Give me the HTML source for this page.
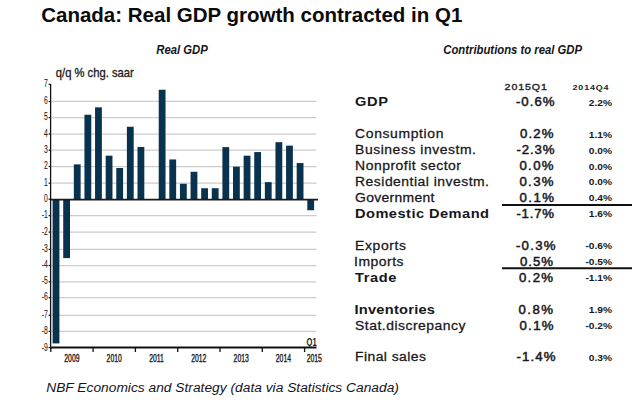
<!DOCTYPE html><html><head><meta charset="utf-8"><title>Canada: Real GDP growth contracted in Q1</title>
<style>html,body{margin:0;padding:0;background:#fff;}body{width:640px;height:405px;overflow:hidden;}svg{display:block;}text{font-family:"Liberation Sans",Arial,sans-serif;}</style></head><body>
<svg width="640" height="405" viewBox="0 0 640 405">
<rect width="640" height="405" fill="#fff"/>
<text transform="translate(41.2,22.2) scale(1.0,1)" font-size="20.5" font-weight="bold" fill="#0b0b0b">Canada: Real GDP growth contracted in Q1</text>
<text transform="translate(156.3,54.3) scale(0.87,1)" font-size="13" font-weight="bold" font-style="italic" fill="#141420">Real GDP</text>
<text transform="translate(443.3,54.1) scale(0.87,1)" font-size="13" font-weight="bold" font-style="italic" fill="#141420">Contributions to real GDP</text>
<text transform="translate(55.8,76.8) scale(0.935,1)" font-size="12" fill="#1a1a1a" stroke="#1a1a1a" stroke-width="0.3">q/q % chg. saar</text>
<line x1="51.5" y1="331.40" x2="316.5" y2="331.40" stroke="#cccccc" stroke-width="1.25"/>
<line x1="51.5" y1="315.30" x2="316.5" y2="315.30" stroke="#cccccc" stroke-width="1.25"/>
<line x1="51.5" y1="297.70" x2="316.5" y2="297.70" stroke="#cccccc" stroke-width="1.25"/>
<line x1="51.5" y1="281.80" x2="316.5" y2="281.80" stroke="#cccccc" stroke-width="1.25"/>
<line x1="51.5" y1="265.50" x2="316.5" y2="265.50" stroke="#cccccc" stroke-width="1.25"/>
<line x1="51.5" y1="249.40" x2="316.5" y2="249.40" stroke="#cccccc" stroke-width="1.25"/>
<line x1="51.5" y1="232.10" x2="316.5" y2="232.10" stroke="#cccccc" stroke-width="1.25"/>
<line x1="51.5" y1="215.70" x2="316.5" y2="215.70" stroke="#cccccc" stroke-width="1.25"/>
<line x1="51.5" y1="183.20" x2="316.5" y2="183.20" stroke="#cccccc" stroke-width="1.25"/>
<line x1="51.5" y1="166.50" x2="316.5" y2="166.50" stroke="#cccccc" stroke-width="1.25"/>
<line x1="51.5" y1="150.20" x2="316.5" y2="150.20" stroke="#cccccc" stroke-width="1.25"/>
<line x1="51.5" y1="134.00" x2="316.5" y2="134.00" stroke="#cccccc" stroke-width="1.25"/>
<line x1="51.5" y1="117.60" x2="316.5" y2="117.60" stroke="#cccccc" stroke-width="1.25"/>
<line x1="51.5" y1="101.45" x2="316.5" y2="101.45" stroke="#cccccc" stroke-width="1.25"/>
<rect x="52.61" y="199.40" width="6.8" height="144.01" fill="#09324f"/>
<rect x="63.22" y="199.40" width="6.8" height="58.69" fill="#09324f"/>
<rect x="73.83" y="164.38" width="6.8" height="35.02" fill="#09324f"/>
<rect x="84.45" y="114.73" width="6.8" height="84.67" fill="#09324f"/>
<rect x="95.06" y="107.34" width="6.8" height="92.06" fill="#09324f"/>
<rect x="105.67" y="155.67" width="6.8" height="43.73" fill="#09324f"/>
<rect x="116.28" y="168.00" width="6.8" height="31.40" fill="#09324f"/>
<rect x="126.89" y="126.74" width="6.8" height="72.66" fill="#09324f"/>
<rect x="137.51" y="146.96" width="6.8" height="52.44" fill="#09324f"/>
<rect x="158.73" y="89.75" width="6.8" height="109.65" fill="#09324f"/>
<rect x="169.34" y="159.45" width="6.8" height="39.95" fill="#09324f"/>
<rect x="179.95" y="183.78" width="6.8" height="15.62" fill="#09324f"/>
<rect x="190.57" y="171.78" width="6.8" height="27.62" fill="#09324f"/>
<rect x="201.18" y="188.22" width="6.8" height="11.18" fill="#09324f"/>
<rect x="211.79" y="188.22" width="6.8" height="11.18" fill="#09324f"/>
<rect x="222.40" y="147.12" width="6.8" height="52.28" fill="#09324f"/>
<rect x="233.01" y="166.68" width="6.8" height="32.72" fill="#09324f"/>
<rect x="243.63" y="155.67" width="6.8" height="43.73" fill="#09324f"/>
<rect x="254.24" y="152.05" width="6.8" height="47.35" fill="#09324f"/>
<rect x="264.85" y="182.14" width="6.8" height="17.26" fill="#09324f"/>
<rect x="275.46" y="142.19" width="6.8" height="57.21" fill="#09324f"/>
<rect x="286.07" y="145.64" width="6.8" height="53.76" fill="#09324f"/>
<rect x="296.69" y="163.07" width="6.8" height="36.33" fill="#09324f"/>
<rect x="307.30" y="199.40" width="6.8" height="10.85" fill="#09324f"/>
<line x1="50" y1="199.6" x2="318" y2="199.6" stroke="#1a1a1a" stroke-width="1.9"/>
<line x1="50.6" y1="84" x2="50.6" y2="349" stroke="#111" stroke-width="1.3"/>
<line x1="48.6" y1="347.6" x2="50.6" y2="347.6" stroke="#111" stroke-width="1.2"/>
<line x1="48.6" y1="331.4" x2="50.6" y2="331.4" stroke="#111" stroke-width="1.2"/>
<line x1="48.6" y1="315.3" x2="50.6" y2="315.3" stroke="#111" stroke-width="1.2"/>
<line x1="48.6" y1="297.7" x2="50.6" y2="297.7" stroke="#111" stroke-width="1.2"/>
<line x1="48.6" y1="281.8" x2="50.6" y2="281.8" stroke="#111" stroke-width="1.2"/>
<line x1="48.6" y1="265.5" x2="50.6" y2="265.5" stroke="#111" stroke-width="1.2"/>
<line x1="48.6" y1="249.4" x2="50.6" y2="249.4" stroke="#111" stroke-width="1.2"/>
<line x1="48.6" y1="232.1" x2="50.6" y2="232.1" stroke="#111" stroke-width="1.2"/>
<line x1="48.6" y1="215.7" x2="50.6" y2="215.7" stroke="#111" stroke-width="1.2"/>
<line x1="48.6" y1="199.2" x2="50.6" y2="199.2" stroke="#111" stroke-width="1.2"/>
<line x1="48.6" y1="183.2" x2="50.6" y2="183.2" stroke="#111" stroke-width="1.2"/>
<line x1="48.6" y1="166.5" x2="50.6" y2="166.5" stroke="#111" stroke-width="1.2"/>
<line x1="48.6" y1="150.2" x2="50.6" y2="150.2" stroke="#111" stroke-width="1.2"/>
<line x1="48.6" y1="134.0" x2="50.6" y2="134.0" stroke="#111" stroke-width="1.2"/>
<line x1="48.6" y1="117.6" x2="50.6" y2="117.6" stroke="#111" stroke-width="1.2"/>
<line x1="48.6" y1="101.5" x2="50.6" y2="101.5" stroke="#111" stroke-width="1.2"/>
<line x1="48.6" y1="84.3" x2="50.6" y2="84.3" stroke="#111" stroke-width="1.2"/>
<line x1="50" y1="347.5" x2="316.5" y2="347.5" stroke="#111" stroke-width="2"/>
<line x1="50.8" y1="347" x2="50.8" y2="352" stroke="#111" stroke-width="1.3"/>
<line x1="93.1" y1="347" x2="93.1" y2="352" stroke="#111" stroke-width="1.3"/>
<line x1="135.4" y1="347" x2="135.4" y2="352" stroke="#111" stroke-width="1.3"/>
<line x1="177.7" y1="347" x2="177.7" y2="352" stroke="#111" stroke-width="1.3"/>
<line x1="220.0" y1="347" x2="220.0" y2="352" stroke="#111" stroke-width="1.3"/>
<line x1="262.3" y1="347" x2="262.3" y2="352" stroke="#111" stroke-width="1.3"/>
<line x1="304.6" y1="347" x2="304.6" y2="352" stroke="#111" stroke-width="1.3"/>
<text transform="translate(47.8,350.9) scale(0.62,1)" font-size="11" text-anchor="end" fill="#222" stroke="#222" stroke-width="0.1">-9</text>
<text transform="translate(47.8,334.0) scale(0.62,1)" font-size="11" text-anchor="end" fill="#222" stroke="#222" stroke-width="0.1">-8</text>
<text transform="translate(47.8,317.9) scale(0.62,1)" font-size="11" text-anchor="end" fill="#222" stroke="#222" stroke-width="0.1">-7</text>
<text transform="translate(47.8,300.3) scale(0.62,1)" font-size="11" text-anchor="end" fill="#222" stroke="#222" stroke-width="0.1">-6</text>
<text transform="translate(47.8,284.4) scale(0.62,1)" font-size="11" text-anchor="end" fill="#222" stroke="#222" stroke-width="0.1">-5</text>
<text transform="translate(47.8,268.1) scale(0.62,1)" font-size="11" text-anchor="end" fill="#222" stroke="#222" stroke-width="0.1">-4</text>
<text transform="translate(47.8,252.0) scale(0.62,1)" font-size="11" text-anchor="end" fill="#222" stroke="#222" stroke-width="0.1">-3</text>
<text transform="translate(47.8,234.7) scale(0.62,1)" font-size="11" text-anchor="end" fill="#222" stroke="#222" stroke-width="0.1">-2</text>
<text transform="translate(47.8,218.3) scale(0.62,1)" font-size="11" text-anchor="end" fill="#222" stroke="#222" stroke-width="0.1">-1</text>
<text transform="translate(47.8,201.8) scale(0.62,1)" font-size="11" text-anchor="end" fill="#222" stroke="#222" stroke-width="0.1">0</text>
<text transform="translate(47.8,185.8) scale(0.62,1)" font-size="11" text-anchor="end" fill="#222" stroke="#222" stroke-width="0.1">1</text>
<text transform="translate(47.8,169.1) scale(0.62,1)" font-size="11" text-anchor="end" fill="#222" stroke="#222" stroke-width="0.1">2</text>
<text transform="translate(47.8,152.8) scale(0.62,1)" font-size="11" text-anchor="end" fill="#222" stroke="#222" stroke-width="0.1">3</text>
<text transform="translate(47.8,136.6) scale(0.62,1)" font-size="11" text-anchor="end" fill="#222" stroke="#222" stroke-width="0.1">4</text>
<text transform="translate(47.8,120.2) scale(0.62,1)" font-size="11" text-anchor="end" fill="#222" stroke="#222" stroke-width="0.1">5</text>
<text transform="translate(47.8,104.0) scale(0.62,1)" font-size="11" text-anchor="end" fill="#222" stroke="#222" stroke-width="0.1">6</text>
<text transform="translate(47.8,86.9) scale(0.62,1)" font-size="11" text-anchor="end" fill="#222" stroke="#222" stroke-width="0.1">7</text>
<text transform="translate(71.9,362.2) scale(0.62,1)" font-size="11" text-anchor="middle" fill="#222" stroke="#222" stroke-width="0.4">2009</text>
<text transform="translate(114.2,362.2) scale(0.62,1)" font-size="11" text-anchor="middle" fill="#222" stroke="#222" stroke-width="0.4">2010</text>
<text transform="translate(156.5,362.2) scale(0.62,1)" font-size="11" text-anchor="middle" fill="#222" stroke="#222" stroke-width="0.4">2011</text>
<text transform="translate(198.8,362.2) scale(0.62,1)" font-size="11" text-anchor="middle" fill="#222" stroke="#222" stroke-width="0.4">2012</text>
<text transform="translate(241.2,362.2) scale(0.62,1)" font-size="11" text-anchor="middle" fill="#222" stroke="#222" stroke-width="0.4">2013</text>
<text transform="translate(283.4,362.2) scale(0.62,1)" font-size="11" text-anchor="middle" fill="#222" stroke="#222" stroke-width="0.4">2014</text>
<text transform="translate(314.3,362.0) scale(0.62,1)" font-size="11" text-anchor="middle" fill="#222" stroke="#222" stroke-width="0.4">2015</text>
<text transform="translate(311.6,345.9) scale(0.76,1)" font-size="10" font-weight="bold" text-anchor="middle" fill="#222">Q1</text>
<text transform="translate(504.6,90.0) scale(1.1,1)" font-size="9.7" fill="#222" stroke="#222" stroke-width="0.35" textLength="38.4" lengthAdjust="spacing">2015Q1</text>
<text transform="translate(572.6,89.7) scale(1.1,1)" font-size="8.1" font-weight="bold" fill="#222" textLength="32.6" lengthAdjust="spacing">2014Q4</text>
<text transform="translate(355.02,105.9) scale(1.22,1)" font-size="12" font-weight="bold" fill="#161620" textLength="27.02" lengthAdjust="spacing">GDP</text>
<text transform="translate(515.95,105.9) scale(1.1,1)" font-size="12" fill="#161620" stroke="#161620" stroke-width="0.45" textLength="35.09" lengthAdjust="spacing">-0.6%</text>
<text transform="translate(612.0,105.6) scale(1.17,1)" font-size="8.7" font-weight="bold" text-anchor="end" fill="#161620">2.2%</text>
<text transform="translate(355.07,137.8) scale(1.16,1)" font-size="12" stroke="#161620" stroke-width="0.25" fill="#161620" textLength="76.20" lengthAdjust="spacing">Consumption</text>
<text transform="translate(519.95,137.8) scale(1.1,1)" font-size="12" fill="#161620" stroke="#161620" stroke-width="0.45" textLength="30.55" lengthAdjust="spacing">0.2%</text>
<text transform="translate(612.0,137.5) scale(1.17,1)" font-size="8.7" font-weight="bold" text-anchor="end" fill="#161620">1.1%</text>
<text transform="translate(355.07,153.8) scale(1.16,1)" font-size="12" stroke="#161620" stroke-width="0.25" fill="#161620" textLength="104.22" lengthAdjust="spacing">Business investm.</text>
<text transform="translate(516.45,153.8) scale(1.1,1)" font-size="12" fill="#161620" stroke="#161620" stroke-width="0.45" textLength="34.64" lengthAdjust="spacing">-2.3%</text>
<text transform="translate(612.0,153.5) scale(1.17,1)" font-size="8.7" font-weight="bold" text-anchor="end" fill="#161620">0.0%</text>
<text transform="translate(355.07,169.8) scale(1.16,1)" font-size="12" stroke="#161620" stroke-width="0.25" fill="#161620" textLength="91.29" lengthAdjust="spacing">Nonprofit sector</text>
<text transform="translate(519.45,169.8) scale(1.1,1)" font-size="12" fill="#161620" stroke="#161620" stroke-width="0.45" textLength="31.00" lengthAdjust="spacing">0.0%</text>
<text transform="translate(612.0,169.5) scale(1.17,1)" font-size="8.7" font-weight="bold" text-anchor="end" fill="#161620">0.0%</text>
<text transform="translate(355.07,185.8) scale(1.16,1)" font-size="12" stroke="#161620" stroke-width="0.25" fill="#161620" textLength="115.42" lengthAdjust="spacing">Residential investm.</text>
<text transform="translate(519.45,185.8) scale(1.1,1)" font-size="12" fill="#161620" stroke="#161620" stroke-width="0.45" textLength="31.00" lengthAdjust="spacing">0.3%</text>
<text transform="translate(612.0,185.4) scale(1.17,1)" font-size="8.7" font-weight="bold" text-anchor="end" fill="#161620">0.0%</text>
<text transform="translate(355.07,201.7) scale(1.16,1)" font-size="12" stroke="#161620" stroke-width="0.25" fill="#161620" textLength="68.44" lengthAdjust="spacing">Government</text>
<text transform="translate(519.45,201.7) scale(1.1,1)" font-size="12" fill="#161620" stroke="#161620" stroke-width="0.45" textLength="31.45" lengthAdjust="spacing">0.1%</text>
<text transform="translate(612.0,201.4) scale(1.17,1)" font-size="8.7" font-weight="bold" text-anchor="end" fill="#161620">0.4%</text>
<text transform="translate(355.02,217.7) scale(1.22,1)" font-size="12" font-weight="bold" fill="#161620" textLength="109.81" lengthAdjust="spacing">Domestic Demand</text>
<text transform="translate(516.45,217.7) scale(1.1,1)" font-size="12" fill="#161620" stroke="#161620" stroke-width="0.45" textLength="34.18" lengthAdjust="spacing">-1.7%</text>
<text transform="translate(612.0,217.4) scale(1.17,1)" font-size="8.7" font-weight="bold" text-anchor="end" fill="#161620">1.6%</text>
<text transform="translate(355.07,249.6) scale(1.16,1)" font-size="12" stroke="#161620" stroke-width="0.25" fill="#161620" textLength="43.87" lengthAdjust="spacing">Exports</text>
<text transform="translate(515.95,249.6) scale(1.1,1)" font-size="12" fill="#161620" stroke="#161620" stroke-width="0.45" textLength="36.00" lengthAdjust="spacing">-0.3%</text>
<text transform="translate(612.0,249.3) scale(1.17,1)" font-size="8.7" font-weight="bold" text-anchor="end" fill="#161620">-0.6%</text>
<text transform="translate(354.07,265.6) scale(1.16,1)" font-size="12" stroke="#161620" stroke-width="0.25" fill="#161620" textLength="42.58" lengthAdjust="spacing">Imports</text>
<text transform="translate(519.95,265.6) scale(1.1,1)" font-size="12" fill="#161620" stroke="#161620" stroke-width="0.45" textLength="30.09" lengthAdjust="spacing">0.5%</text>
<text transform="translate(612.0,265.3) scale(1.17,1)" font-size="8.7" font-weight="bold" text-anchor="end" fill="#161620">-0.5%</text>
<text transform="translate(355.02,281.6) scale(1.22,1)" font-size="12" font-weight="bold" fill="#161620" textLength="33.99" lengthAdjust="spacing">Trade</text>
<text transform="translate(518.95,281.6) scale(1.1,1)" font-size="12" fill="#161620" stroke="#161620" stroke-width="0.45" textLength="31.00" lengthAdjust="spacing">0.2%</text>
<text transform="translate(612.0,281.3) scale(1.17,1)" font-size="8.7" font-weight="bold" text-anchor="end" fill="#161620">-1.1%</text>
<text transform="translate(354.52,313.5) scale(1.22,1)" font-size="12" font-weight="bold" fill="#161620" textLength="65.95" lengthAdjust="spacing">Inventories</text>
<text transform="translate(518.45,313.5) scale(1.1,1)" font-size="12" fill="#161620" stroke="#161620" stroke-width="0.45" textLength="31.45" lengthAdjust="spacing">0.8%</text>
<text transform="translate(612.0,313.2) scale(1.17,1)" font-size="8.7" font-weight="bold" text-anchor="end" fill="#161620">1.9%</text>
<text transform="translate(355.07,329.5) scale(1.16,1)" font-size="12" stroke="#161620" stroke-width="0.25" fill="#161620" textLength="95.17" lengthAdjust="spacing">Stat.discrepancy</text>
<text transform="translate(519.45,329.5) scale(1.1,1)" font-size="12" fill="#161620" stroke="#161620" stroke-width="0.45" textLength="31.00" lengthAdjust="spacing">0.1%</text>
<text transform="translate(612.0,329.2) scale(1.17,1)" font-size="8.7" font-weight="bold" text-anchor="end" fill="#161620">-0.2%</text>
<text transform="translate(355.07,361.4) scale(1.16,1)" font-size="12" stroke="#161620" stroke-width="0.25" fill="#161620" textLength="61.11" lengthAdjust="spacing">Final sales</text>
<text transform="translate(516.45,361.4) scale(1.1,1)" font-size="12" fill="#161620" stroke="#161620" stroke-width="0.45" textLength="35.55" lengthAdjust="spacing">-1.4%</text>
<text transform="translate(612.0,361.1) scale(1.17,1)" font-size="8.7" font-weight="bold" text-anchor="end" fill="#161620">0.3%</text>
<line x1="502" y1="205" x2="632" y2="205" stroke="#111" stroke-width="2"/>
<line x1="502" y1="268.3" x2="632" y2="268.3" stroke="#111" stroke-width="2"/>
<text transform="translate(46.2,391.9) scale(1.006,1)" font-size="13.7" font-style="italic" fill="#141420">NBF Economics and Strategy (data via Statistics Canada)</text>
</svg></body></html>
